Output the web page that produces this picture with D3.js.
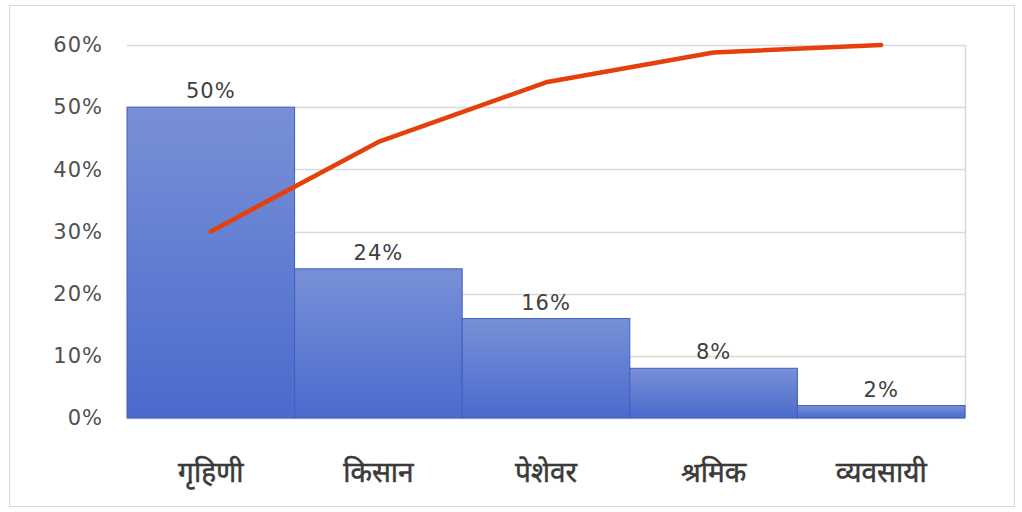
<!DOCTYPE html>
<html><head><meta charset="utf-8">
<script src="https://cdn.jsdelivr.net/npm/d3@7"></script>
<style>body{margin:0;background:#fff}svg{display:block}</style>
</head><body>
<svg id="c" width="1022" height="512"></svg>
<script>
const categories = ["गृहिणी","किसान","पेशेवर","श्रमिक","व्यवसायी"];
const barValues = [50, 24, 16, 8, 2];
const lineValues = [30, 44.4, 54, 58.8, 60];
const yTicks = [0, 10, 20, 30, 40, 50, 60];

const svg = d3.select("#c");
const W = 1022, H = 512;
const m = {left:127, right:1022-965, top:45, bottom:512-418};
const font = "'DejaVu Sans', sans-serif";

svg.append("rect").attr("x",9.5).attr("y",5.5).attr("width",1005).attr("height",501)
  .attr("fill","#fff").attr("stroke","#d9d9d9");

const x = d3.scaleBand().domain(categories).range([m.left, W-m.right]).padding(0);
const y = d3.scaleLinear().domain([0,60]).range([H-m.bottom, m.top]);

const defs = svg.append("defs");
const g = defs.append("linearGradient").attr("id","bg").attr("x1",0).attr("y1",0).attr("x2",0).attr("y2",1);
g.append("stop").attr("offset","0%").attr("stop-color","#7890d6");
g.append("stop").attr("offset","100%").attr("stop-color","#4a6bce");

// gridlines
svg.append("g").selectAll("line").data(yTicks).join("line")
  .attr("x1",m.left).attr("x2",W-m.right)
  .attr("y1",d=>Math.round(y(d))+0.5).attr("y2",d=>Math.round(y(d))+0.5)
  .attr("stroke","#d9d9d9").attr("stroke-width",1.5);
svg.append("line").attr("x1",W-m.right+0.5).attr("x2",W-m.right+0.5).attr("y1",y(60)).attr("y2",y(0))
  .attr("stroke","#d9d9d9").attr("stroke-width",1.5);

// y axis
const yAxis = d3.axisLeft(y).tickValues(yTicks).tickFormat(d=>d+"%").tickSize(0).tickPadding(24);
const ya = svg.append("g").attr("transform",`translate(${m.left},0)`).call(yAxis);
ya.select(".domain").remove();
ya.selectAll("text").attr("font-family",font).attr("font-size",21).attr("letter-spacing",1).attr("fill","#505050");

// bars
const bw = x.bandwidth();
svg.append("g").selectAll("rect").data(barValues).join("rect")
  .attr("x",(d,i)=>x(categories[i])).attr("width",bw)
  .attr("y",d=>y(d)).attr("height",d=>y(0)-y(d))
  .attr("fill","url(#bg)").attr("stroke","#3f5fbf").attr("stroke-width",1);

// data labels
svg.append("g").selectAll("text").data(barValues).join("text")
  .attr("x",(d,i)=>x(categories[i])+bw/2).attr("y",d=>y(d)-9)
  .attr("text-anchor","middle").attr("font-family",font).attr("font-size",21).attr("letter-spacing",1).attr("fill","#404040")
  .text(d=>d+"%");

// x axis
const xAxis = d3.axisBottom(x).tickSize(0).tickPadding(44);
const xa = svg.append("g").attr("transform",`translate(0,${y(0)})`).call(xAxis);
xa.select(".domain").remove();
xa.selectAll("text").attr("font-family","'Noto Sans', sans-serif").attr("font-size",28)
  .attr("fill","#3a3a3a").attr("stroke","#3a3a3a").attr("stroke-width",0.5);

// line
const line = d3.line().x((d,i)=>x(categories[i])+bw/2).y(d=>y(d));
svg.append("path").datum(lineValues).attr("d",line).attr("fill","none")
  .attr("stroke","#e5400c").attr("stroke-width",4.5).attr("stroke-linecap","round").attr("stroke-linejoin","round");
</script>
</body></html>
